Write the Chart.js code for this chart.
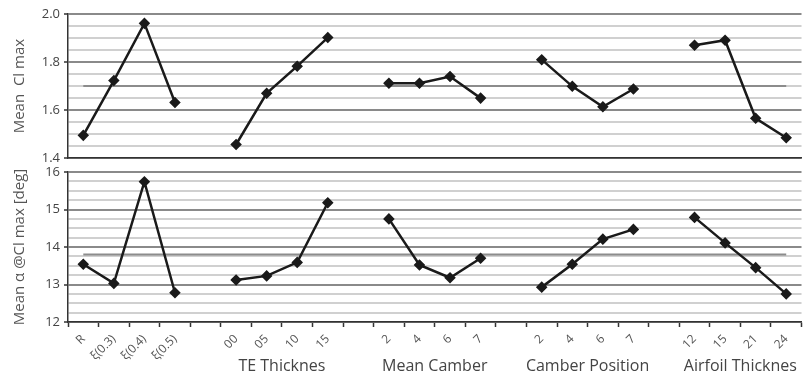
<!DOCTYPE html>
<html>
<head>
<meta charset="utf-8">
<script src="https://cdn.jsdelivr.net/npm/chart.js@4.4.1/dist/chart.umd.min.js"></script>
<style>
  html, body { margin: 0; padding: 0; background: #fff; overflow: hidden; }
  #wrap { width: 803px; height: 384px; overflow: hidden; position: relative; }
  .box { position: absolute; left: 0; width: 808px; }
  #topBox { top: 0; height: 170px; }
  #botBox { top: 160px; height: 224px; }
</style>
</head>
<body>
<div id="wrap">
  <div class="box" id="topBox"><canvas id="clChart"></canvas></div>
  <div class="box" id="botBox"><canvas id="alphaChart"></canvas></div>
</div>
<script>
// categories (empty label = gap between factors)
const tickLabels = ['R', 'ξ(0.3)', 'ξ(0.4)', 'ξ(0.5)', '',
                    '00', '05', '10', '15', '',
                    '2', '4', '6', '7', '',
                    '2', '4', '6', '7', '',
                    '12', '15', '21', '24'];
const groupTitles = ['', 'TE Thicknes', 'Mean Camber', 'Camber Position', 'Airfoil Thicknes'];

// main effects, mean Cl max
const clMax = [1.495, 1.723, 1.961, 1.632, null,
               1.457, 1.670, 1.783, 1.902, null,
               1.712, 1.712, 1.740, 1.650, null,
               1.810, 1.699, 1.614, 1.688, null,
               1.870, 1.891, 1.566, 1.485];
const clMean = 1.70;

// main effects, mean alpha @ Cl max
const alphaMax = [13.54, 13.03, 15.74, 12.78, null,
                  13.12, 13.23, 13.59, 15.18, null,
                  14.75, 13.52, 13.18, 13.70, null,
                  12.93, 13.54, 14.21, 14.47, null,
                  14.79, 14.11, 13.45, 12.75];
const alphaMean = 13.8;

const FONT = "'Open Sans', 'Noto Sans', sans-serif";
Chart.defaults.font.family = FONT;
Chart.defaults.color = '#555';

function isMajor(v, step) {
    return Math.abs(v / step - Math.round(v / step)) < 1e-6;
}

// factor names under each group of points
const groupTitlePlugin = {
    id: 'groupTitles',
    afterDraw(chart) {
        const xs = chart.scales.x;
        const ctx = chart.ctx;
        const groups = [];
        let cur = [];
        alphaMax.forEach((v, i) => {
            if (v === null) { groups.push(cur); cur = []; }
            else cur.push(i);
        });
        groups.push(cur);
        ctx.save();
        ctx.font = '16px ' + FONT;
        ctx.fillStyle = '#444';
        ctx.textAlign = 'center';
        ctx.textBaseline = 'middle';
        groups.forEach((g, k) => {
            if (!groupTitles[k]) return;
            const x = (xs.getPixelForValue(g[0]) + xs.getPixelForValue(g[g.length - 1])) / 2;
            ctx.fillText(groupTitles[k], x, chart.chartArea.bottom + 44);
        });
        ctx.restore();
    }
};

function makePanel(canvasId, values, mean, yMin, yMax, step, majorStep, title, decimals, showX, pad) {
    return new Chart(document.getElementById(canvasId), {
        type: 'line',
        data: {
            labels: tickLabels,
            datasets: [{
                data: values,
                borderColor: '#1a1a1a',
                backgroundColor: '#1a1a1a',
                borderWidth: 2.5,
                pointStyle: 'rectRot',
                pointRadius: 4,
                spanGaps: false,
                order: 1
            }, {
                data: tickLabels.map(() => mean),
                borderColor: '#8c8c8c',
                borderWidth: 2,
                pointRadius: 0,
                order: 2
            }]
        },
        options: {
            responsive: true,
            maintainAspectRatio: false,
            animation: false,
            layout: { padding: pad },
            plugins: { legend: { display: false }, tooltip: { enabled: false } },
            scales: {
                x: {
                    offset: true,
                    grid: {
                        display: showX,
                        drawOnChartArea: false,
                        offset: true,
                        tickLength: 5,
                        tickColor: '#333',
                        tickWidth: 1.5
                    },
                    border: { display: true, color: '#333', width: 1.5 },
                    ticks: {
                        display: showX,
                        autoSkip: false,
                        minRotation: 45,
                        maxRotation: 45,
                        padding: 5,
                        color: '#555',
                        font: { size: 12 }
                    },
                    afterFit: s => { s.height = showX ? 62 : 3; }
                },
                y: {
                    min: yMin,
                    max: yMax,
                    ticks: {
                        stepSize: step,
                        autoSkip: false,
                        color: '#444',
                        font: { size: 13 },
                        padding: 4,
                        callback: v => isMajor(v, majorStep) ? v.toFixed(decimals) : ''
                    },
                    grid: {
                        color: c => isMajor(c.tick.value, majorStep) ? '#8a8a8a' : '#d0d0d0',
                        lineWidth: 2,
                        tickLength: 4,
                        tickColor: c => isMajor(c.tick.value, majorStep) ? '#333' : 'rgba(0,0,0,0)',
                        tickWidth: 1.5
                    },
                    border: { display: true, color: '#333', width: 1.5 },
                    title: {
                        display: true,
                        text: title,
                        color: '#555',
                        font: { size: 15 },
                        padding: { top: 0, bottom: 4 }
                    },
                    afterFit: s => { s.width = 57; }
                }
            }
        },
        plugins: showX ? [groupTitlePlugin] : []
    });
}

makePanel('clChart', clMax, clMean, 1.4, 2.0, 0.05, 0.2, 'Mean  Cl max', 1, false,
    { top: 14, bottom: 0, left: 11, right: 0 });
makePanel('alphaChart', alphaMax, alphaMean, 12, 16, 0.25, 1, 'Mean α @Cl max [deg]', 0, true,
    { top: 12, bottom: 0, left: 11, right: 0 });
</script>
</body>
</html>
